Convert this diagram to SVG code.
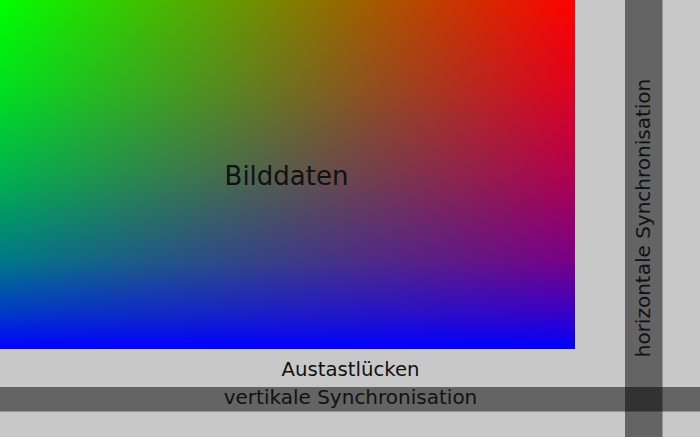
<svg xmlns="http://www.w3.org/2000/svg" width="700" height="437" viewBox="0 0 700 437">
<defs>
<linearGradient id="gr" x1="0" y1="0" x2="1" y2="0">
<stop offset="0" stop-color="#00ff00"/>
<stop offset="1" stop-color="#ff0000"/>
</linearGradient>
<linearGradient id="bl" x1="0" y1="0" x2="0" y2="1">
<stop offset="0" stop-color="#0000ff" stop-opacity="0"/>
<stop offset="0.25" stop-color="#0000ff" stop-opacity="0.12"/>
<stop offset="0.5" stop-color="#0000ff" stop-opacity="0.3"/>
<stop offset="0.75" stop-color="#0000ff" stop-opacity="0.53"/>
<stop offset="0.9" stop-color="#0000ff" stop-opacity="0.78"/>
<stop offset="1" stop-color="#0000ff" stop-opacity="1"/>
</linearGradient>
</defs>
<style>
.t{font-family:"DejaVu Sans",sans-serif;fill:#111;text-anchor:middle}
.band{fill:#000;fill-opacity:0.5}
</style>
<rect width="700" height="437" fill="#c8c8c8"/>
<g id="bilddaten">
<rect x="0" y="0" width="575" height="349" fill="url(#gr)"/>
<rect x="0" y="0" width="575" height="349" fill="url(#bl)"/>
<text class="t" x="286.5" y="185" font-size="26">Bilddaten</text>
</g>
<g id="austastluecken">
<text class="t" x="350.5" y="376" font-size="19.7">Austastlücken</text>
</g>
<g id="vsync">
<rect class="band" x="0" y="387" width="700" height="24.5"/>
<text class="t" x="350.5" y="404" font-size="20">vertikale Synchronisation</text>
</g>
<g id="hsync">
<rect class="band" x="625" y="0" width="37.5" height="437"/>
<text class="t" transform="translate(650,218) rotate(-90)" x="0" y="0" font-size="20">horizontale Synchronisation</text>
</g>
</svg>
